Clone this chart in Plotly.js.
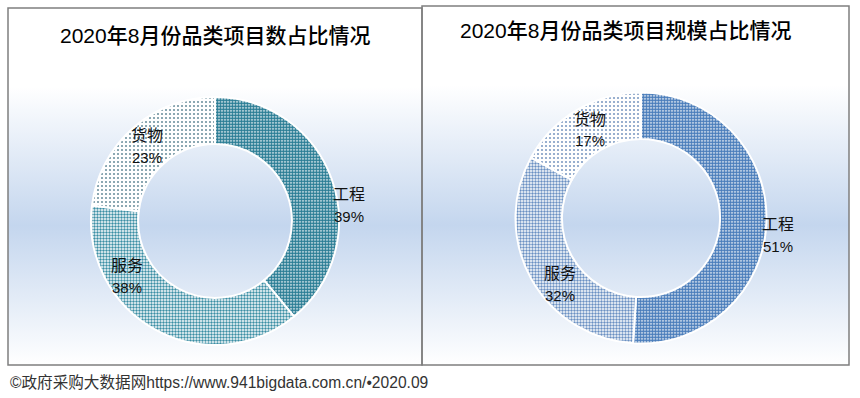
<!DOCTYPE html>
<html>
<head>
<meta charset="utf-8">
<script src="https://cdn.plot.ly/plotly-3.0.1.min.js"></script>
<style>
  html, body { margin: 0; padding: 0; background: #ffffff; }
  #wrap { position: relative; width: 860px; height: 398px; overflow: hidden; }
  .bg { position: absolute;
        background: linear-gradient(to bottom, #ffffff 0%, #ffffff 22%, #c4d6ee 61%, #ffffff 100%); }
  #chart { position: absolute; left: 0; top: 0; width: 860px; height: 398px; }
</style>
</head>
<body>
<div id="wrap">
  <div class="bg" style="left:8px; top:8px; width:414px; height:357px;"></div>
  <div class="bg" style="left:422px; top:6px; width:427px; height:359px;"></div>
  <div id="chart"></div>
</div>
<script>
// ---- data ----
const categories = ["工程", "服务", "货物"];
const countShare = [39, 38, 23];   // 项目数占比 (%)
const scaleShare = [51, 32, 17];   // 项目规模占比 (%)
const titleLeft = "2020年8月份品类项目数占比情况";
const titleRight = "2020年8月份品类项目规模占比情况";
const footer = "©政府采购大数据网https://www.941bigdata.com.cn/•2020.09";

// ---- styling ----
const W = 860, H = 398;
const FONT = "Liberation Sans, Arial, 'Noto Sans CJK SC', sans-serif";
const px = v => v / W;
const py = v => 1 - v / H;

function pieTrace(values, domainPx, hole, fg) {
  const [cx, cy, r] = domainPx;
  return {
    type: "pie",
    labels: categories,
    values: values,
    sort: false,
    direction: "clockwise",
    rotation: 0,
    hole: hole,
    textinfo: "none",
    hoverinfo: "label+percent",
    showlegend: false,
    domain: { x: [px(cx - r), px(cx + r)], y: [py(cy + r), py(cy - r)] },
    marker: {
      colors: fg,
      line: { color: "#ffffff", width: 2 },
      pattern: {
        shape: [".", ".", "."],
        fillmode: "replace",
        fgcolor: fg,
        bgcolor: ["#ffffff", "#ffffff", "#ffffff"],
        size: [3, 3, 4],
        solidity: [0.78, 0.5, 0.22]
      }
    }
  };
}

const traces = [
  pieTrace(countShare, [215, 221, 124], 0.62, ["#2a7d95", "#3a8ea4", "#6f93a0"]),
  pieTrace(scaleShare, [641, 218, 125.5], 0.63, ["#4a7dbb", "#6a90c2", "#7f9cc4"])
];

// label positions (pixels) for each panel, in category order
const labelPosLeft = [[349, 205], [127, 276], [147, 146]];
const labelPosRight = [[778, 235], [560, 284], [590, 130]];

const annotations = [];
function addLabels(values, pos) {
  categories.forEach((c, i) => {
    const [x, y] = pos[i];
    annotations.push({ xref: "paper", yref: "paper", x: px(x), y: py(y - 11), text: c,
      showarrow: false, xanchor: "center", yanchor: "middle",
      font: { family: FONT, size: 16, color: "#111111" } });
    annotations.push({ xref: "paper", yref: "paper", x: px(x), y: py(y + 11), text: values[i] + "%",
      showarrow: false, xanchor: "center", yanchor: "middle",
      font: { family: FONT, size: 15, color: "#111111" } });
  });
}
addLabels(countShare, labelPosLeft);
addLabels(scaleShare, labelPosRight);

annotations.push({ xref: "paper", yref: "paper", x: px(215), y: py(35), text: titleLeft,
  showarrow: false, xanchor: "center", yanchor: "middle",
  font: { family: FONT, size: 21, color: "#000000", weight: 500 } });
annotations.push({ xref: "paper", yref: "paper", x: px(625), y: py(31), text: titleRight,
  showarrow: false, xanchor: "center", yanchor: "middle",
  font: { family: FONT, size: 21, color: "#000000", weight: 500 } });
annotations.push({ xref: "paper", yref: "paper", x: px(8), y: py(382), text: footer,
  showarrow: false, xanchor: "left", yanchor: "middle",
  font: { family: FONT, size: 15.6, color: "#333333" } });

const border = { color: "#7f7f7f", width: 1.5 };
const shapes = [
  { type: "rect", xref: "paper", yref: "paper", x0: px(8), x1: px(422), y0: py(365), y1: py(8), line: border },
  { type: "rect", xref: "paper", yref: "paper", x0: px(422), x1: px(849), y0: py(365), y1: py(6), line: border }
];

const layout = {
  width: W, height: H,
  margin: { l: 0, r: 0, t: 0, b: 0 },
  paper_bgcolor: "rgba(0,0,0,0)",
  plot_bgcolor: "rgba(0,0,0,0)",
  annotations: annotations,
  shapes: shapes,
  font: { family: FONT }
};

Plotly.newPlot("chart", traces, layout, { displayModeBar: false, staticPlot: true });
</script>
</body>
</html>
